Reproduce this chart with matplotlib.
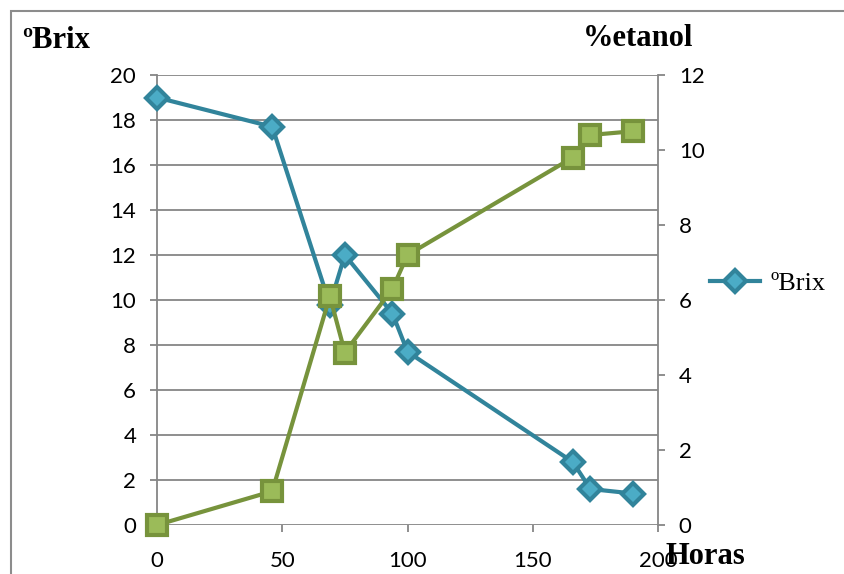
import matplotlib
matplotlib.use("Agg")
import matplotlib.pyplot as plt
from matplotlib.patches import Rectangle

# horas de fermentación
horas_brix = [0, 46, 69, 75, 94, 100, 166, 173, 190]
brix = [19.0, 17.7, 9.8, 12.0, 9.4, 7.7, 2.8, 1.6, 1.4]

horas_etanol = [0, 46, 69, 75, 94, 100, 166, 173, 190]
etanol = [0.0, 0.9, 6.1, 4.6, 6.3, 7.2, 9.8, 10.4, 10.5]

x_ticks = [0, 50, 100, 150, 200]
brix_ticks = list(range(0, 21, 2))
etanol_ticks = list(range(0, 13, 2))

teal = "#31849B"
teal_fill = "#4BACC6"
olive = "#77933C"
olive_fill = "#9BBB59"
grey = "#868686"

plt.rcParams["font.family"] = ["Lato", "DejaVu Sans"]

fig = plt.figure(figsize=(8.44, 5.74), dpi=100)
ax = fig.add_axes([157 / 844, 1 - 525 / 574, (658 - 157) / 844, (525 - 75) / 574])
ax2 = ax.twinx()

# borde exterior del gráfico
fig.patches.append(Rectangle((11 / 844, -0.1), 1.2, 1 - 11 / 574 + 0.1,
                             transform=fig.transFigure, fill=False,
                             edgecolor="#8c8c8c", linewidth=1.5))

ax.set_xlim(0, 200)
ax.set_ylim(0, 20)
ax2.set_ylim(0, 12)
ax.set_xticks(x_ticks)
ax.set_yticks(brix_ticks)
ax2.set_yticks(etanol_ticks)

ax.grid(axis="y", color=grey, linewidth=1.3)
ax.set_axisbelow(True)
for a in (ax, ax2):
    for s in a.spines.values():
        s.set_visible(False)
ax.spines["left"].set_visible(True)
ax.spines["left"].set_color(grey)
ax.spines["left"].set_linewidth(1.3)
ax2.spines["right"].set_visible(True)
ax2.spines["right"].set_color(grey)
ax2.spines["right"].set_linewidth(1.3)

ax.tick_params(axis="y", length=5, width=1.3, color=grey, pad=10, labelsize=16)
ax.tick_params(axis="x", length=5, width=1.3, color=grey, pad=14, labelsize=16)
ax2.tick_params(axis="y", length=5, width=1.3, color=grey, pad=10, labelsize=16)

ln, = ax.plot(horas_brix, brix, color=teal, linewidth=3, marker="D",
              markersize=11, markerfacecolor=teal_fill, markeredgecolor=teal,
              markeredgewidth=3, zorder=3, clip_on=False, label="ºBrix")
ax2.plot(horas_etanol, etanol, color=olive, linewidth=3, marker="s",
         markersize=14, markerfacecolor=olive_fill, markeredgecolor=olive,
         markeredgewidth=3, zorder=3, clip_on=False)

fig.legend(handles=[ln], loc="center left", bbox_to_anchor=(697 / 844, 1 - 283 / 574),
           frameon=False, handlelength=1.9, handletextpad=0.4, borderpad=0,
           prop={"family": "Liberation Serif", "size": 19})

bold = {"family": "Liberation Serif", "weight": "bold", "size": 22}
fig.text(22 / 844, 1 - 40 / 574, "ºBrix", ha="left", va="center", **bold)
fig.text(583 / 844, 1 - 38 / 574, "%etanol", ha="left", va="center", **bold)
fig.text(665 / 844, 1 - 556 / 574, "Horas", ha="left", va="center", **bold)

fig.savefig("out.png", dpi=100)
